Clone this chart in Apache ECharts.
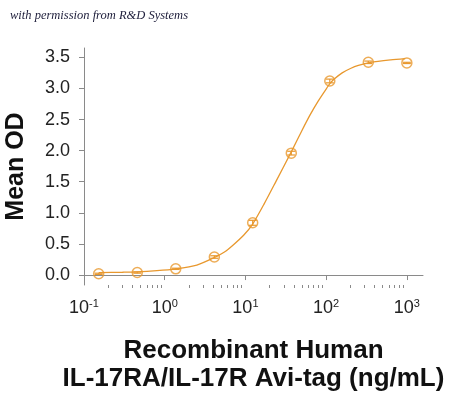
<!DOCTYPE html>
<html>
<head>
<meta charset="utf-8">
<script src="https://cdn.jsdelivr.net/npm/echarts@6/dist/echarts.min.js"></script>
<style>
html,body{margin:0;padding:0;background:#fff;}
#chart{width:450px;height:394px;}
</style>
</head>
<body>
<div id="chart"></div>
<script>
// Measured points: concentration (ng/mL) and mean OD
var concentrations = [0.152, 0.457, 1.37, 4.12, 12.3, 37.0, 111, 333, 1000];
var meanOD = [0.02, 0.04, 0.10, 0.29, 0.84, 1.96, 3.12, 3.42, 3.41];
var odError = [0.01, 0.01, 0.01, 0.02, 0.04, 0.03, 0.03, 0.02, 0.01];

// Fitted curve
var curveX = [0.152, 0.3, 0.45, 0.8, 1.37, 2.5, 4.1, 5.5, 7.0, 9.5, 12.3, 17, 24, 37, 50, 63, 80, 100, 112, 126, 158, 200, 251, 355, 630, 955];
var curveY = [0.04, 0.045, 0.05, 0.07, 0.10, 0.16, 0.28, 0.37, 0.48, 0.64, 0.82, 1.14, 1.51, 1.98, 2.32, 2.57, 2.80, 2.99, 3.08, 3.15, 3.25, 3.32, 3.37, 3.42, 3.46, 3.48];

// Axis ticks
var xMajorTicks = [0.1, 1, 10, 100, 1000];
var xMinorTicks = [0.2, 0.3, 0.4, 0.5, 0.6, 0.7, 0.8, 0.9,
                   2, 3, 4, 5, 6, 7, 8, 9,
                   20, 30, 40, 50, 60, 70, 80, 90,
                   200, 300, 400, 500, 600, 700, 800, 900];
var yTicks = [0, 0.5, 1.0, 1.5, 2.0, 2.5, 3.0, 3.5];
var xExponents = {"0.1": "-1", "1": "0", "10": "1", "100": "2", "1000": "3"};

var COLOR = '#E8982E';
var AXIS = '#8a8a8a';

var pts = concentrations.map(function (c, i) { return [c, meanOD[i]]; });
var errs = concentrations.map(function (c, i) { return [c, meanOD[i] - odError[i], meanOD[i] + odError[i]]; });
var curve = curveX.map(function (c, i) { return [c, curveY[i]]; });

var chart = echarts.init(document.getElementById('chart'), null, {renderer: 'canvas'});
chart.setOption({
  animation: false,
  backgroundColor: '#fff',
  grid: {left: 84, right: 27, top: 48, bottom: 109, outerBoundsMode: 'none', containLabel: false},
  graphic: [{
    type: 'text', left: 10, top: 9,
    style: {text: 'with permission from R&D Systems', fill: '#1d1d3a',
      font: 'italic 12.5px "Liberation Serif", serif'}
  }],
  xAxis: [{
    type: 'log', logBase: 10, min: 0.1, max: 1585,
    axisLine: {show: true, lineStyle: {color: AXIS, width: 1}},
    axisTick: {show: true, inside: false, length: 5, lineStyle: {color: AXIS}, customValues: xMajorTicks},
    splitLine: {show: false},
    axisLabel: {
      customValues: xMajorTicks,
      margin: 13,
      formatter: function (v) {
        var key = String(Math.round(v * 1000) / 1000);
        var e = xExponents[key];
        if (e === undefined) return '';
        return '{b|10}{s|' + e + '}';
      },
      rich: {
        b: {fontSize: 18, fontFamily: '"Liberation Sans", Arial', color: '#222', lineHeight: 20},
        s: {fontSize: 11, fontFamily: '"Liberation Sans", Arial', color: '#222', lineHeight: 20, padding: [0, 0, 9, 0]}
      }
    },
    name: 'Recombinant Human\nIL-17RA/IL-17R Avi-tag (ng/mL)',
    nameLocation: 'middle', nameGap: 52,
    nameTextStyle: {fontSize: 26, fontWeight: 'bold', fontFamily: '"Liberation Sans", Arial', color: '#111', lineHeight: 28}
  }, {
    type: 'log', logBase: 10, min: 0.1, max: 1585, position: 'bottom',
    axisLine: {show: false},
    axisTick: {show: true, length: 3, lineStyle: {color: AXIS}, customValues: xMinorTicks},
    axisLabel: {show: false},
    splitLine: {show: false}
  }],
  yAxis: {
    type: 'value', min: -0.16, max: 3.65,
    axisLine: {show: true, lineStyle: {color: AXIS, width: 1}},
    axisTick: {show: true, length: 5, lineStyle: {color: AXIS}, customValues: yTicks},
    splitLine: {show: false},
    axisLabel: {
      customValues: yTicks, margin: 14,
      formatter: function (v) { return v.toFixed(1); },
      fontSize: 18, fontFamily: '"Liberation Sans", Arial', color: '#222'
    },
    name: 'Mean OD', nameLocation: 'middle', nameGap: 55,
    nameTextStyle: {fontSize: 25, fontWeight: 'bold', fontFamily: '"Liberation Sans", Arial', color: '#111'}
  },
  series: [{
    type: 'line', data: curve, xAxisIndex: 0, showSymbol: false, smooth: 0.25,
    lineStyle: {color: COLOR, width: 1.3}, silent: true, z: 2
  }, {
    type: 'custom', xAxisIndex: 0, data: errs, z: 3,
    renderItem: function (params, api) {
      var x = api.value(0);
      var lo = api.coord([x, api.value(1)]);
      var hi = api.coord([x, api.value(2)]);
      var w = 4;
      var st = {stroke: COLOR, lineWidth: 1.2};
      return {type: 'group', children: [
        {type: 'line', shape: {x1: lo[0], y1: lo[1], x2: hi[0], y2: hi[1]}, style: st},
        {type: 'line', shape: {x1: lo[0] - w, y1: lo[1], x2: lo[0] + w, y2: lo[1]}, style: st},
        {type: 'line', shape: {x1: hi[0] - w, y1: hi[1], x2: hi[0] + w, y2: hi[1]}, style: st}
      ]};
    }
  }, {
    type: 'scatter', data: pts, xAxisIndex: 0, symbol: 'circle', symbolSize: 10, z: 4,
    itemStyle: {color: 'rgba(255,255,255,0)', borderColor: COLOR, borderWidth: 1.5}
  }]
});
</script>
</body>
</html>
